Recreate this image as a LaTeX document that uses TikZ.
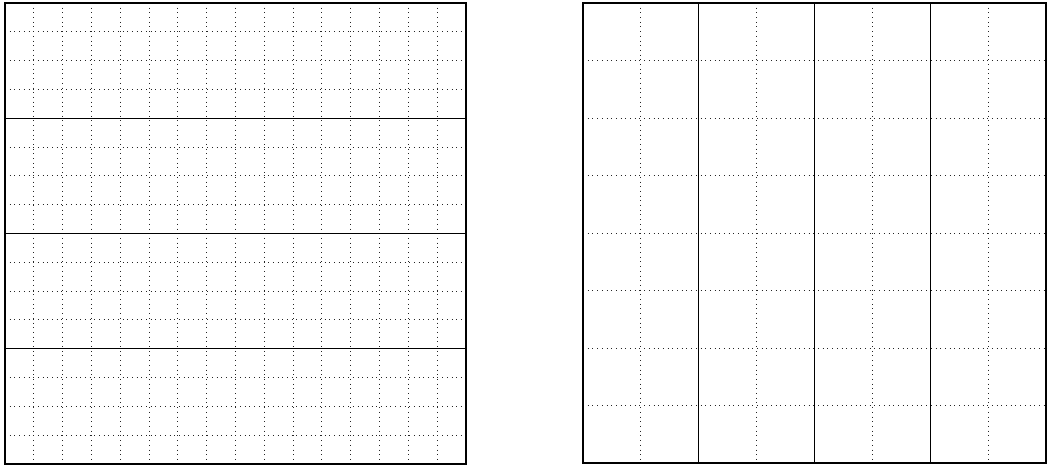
\documentclass[tikz,border=0pt]{standalone}
\begin{document}
\begin{tikzpicture}[x=1pt,y=-1pt,
  gridline/.style={line width=0.9pt, dash pattern=on 0.9pt off 3.8pt, black!85},
  bandline/.style={line width=1.3pt, black},
  frame/.style={line width=1.4pt, black}]
\useasboundingbox (0,0) rectangle (1047,465);
% left square
\def\Lx{5}\def\Ly{3}\def\Ls{461}
\foreach \i in {1,...,15} {
  \draw[gridline] ({\Lx+\i*\Ls/16},\Ly) -- ({\Lx+\i*\Ls/16},{\Ly+\Ls});
  \draw[gridline] (\Lx,{\Ly+\i*\Ls/16}) -- ({\Lx+\Ls},{\Ly+\i*\Ls/16});
}
\foreach \i in {1,2,3} {
  \draw[bandline] (\Lx,{\Ly+\i*\Ls/4}) -- ({\Lx+\Ls},{\Ly+\i*\Ls/4});
}
\draw[frame] (\Lx,\Ly) rectangle ({\Lx+\Ls},{\Ly+\Ls});
% right square
\def\Rx{583}\def\Ry{3}\def\Rw{463}\def\Rh{460}
\foreach \i in {1,...,7} {
  \draw[gridline] ({\Rx+\i*\Rw/8},\Ry) -- ({\Rx+\i*\Rw/8},{\Ry+\Rh});
  \draw[gridline] (\Rx,{\Ry+\i*\Rh/8}) -- ({\Rx+\Rw},{\Ry+\i*\Rh/8});
}
\foreach \i in {1,2,3} {
  \draw[bandline] ({\Rx+\i*\Rw/4},\Ry) -- ({\Rx+\i*\Rw/4},{\Ry+\Rh});
}
\draw[frame] (\Rx,\Ry) rectangle ({\Rx+\Rw},{\Ry+\Rh});
\end{tikzpicture}
\end{document}
